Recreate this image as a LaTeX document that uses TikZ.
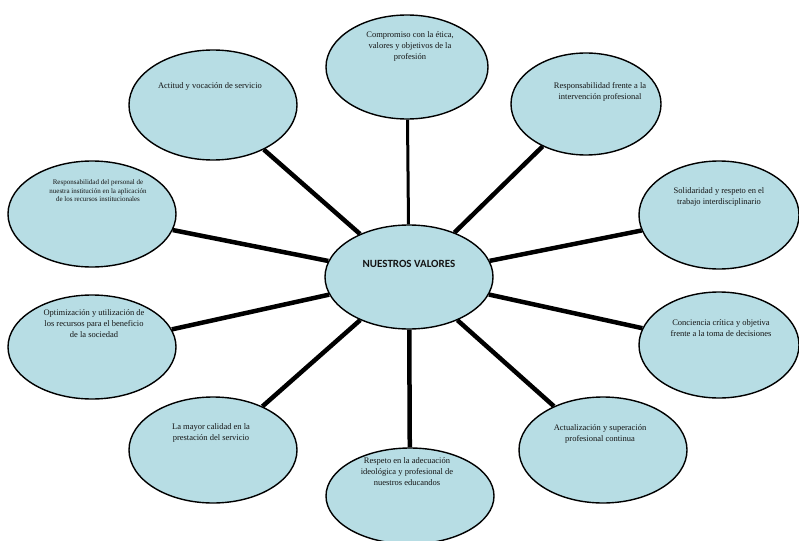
\documentclass[tikz,border=0pt]{standalone}
\usepackage{fontspec}
\setmainfont{Liberation Serif}
\newfontfamily\hubfont{Carlito}
\usetikzlibrary{shapes.geometric, backgrounds}
\definecolor{cValue}{RGB}{183, 221, 228}
\definecolor{cInk}{RGB}{20, 20, 20}
\tikzset{
    valueBox/.style={
        ellipse, draw=black, line width=1.4pt,
        fill=cValue, inner sep=0pt
    },
    valueText/.style={
        align=center, inner sep=0pt, text=cInk,
        font=\fontsize{8.5}{11}\selectfont
    },
    smallText/.style={
        align=center, inner sep=0pt, text=cInk,
        font=\fontsize{7}{8.5}\selectfont
    },
    hubText/.style={
        inner sep=0pt, text=cInk,
        font=\hubfont\bfseries\fontsize{11}{13}\selectfont
    },
    spoke/.style={
        line width=4.5pt, draw=black
    }
}

\begin{document}
\begin{tikzpicture}[x=1pt, y=-1pt]

	\useasboundingbox (0,0) rectangle (799,540);

	% =========================================================
	% Central Node
	% =========================================================

	\node [valueBox, minimum width=168pt, minimum height=104pt] (hub) at (409,277) {};
	\node [hubText] (hubLabel) at (409,264) {NUESTROS VALORES};

	% =========================================================
	% Value Ellipses
	% =========================================================

	\node [valueBox, minimum width=162pt, minimum height=104pt] (etica) at (407,67) {};
	\node [valueBox, minimum width=150pt, minimum height=102pt] (intervencion) at (586,104) {};
	\node [valueBox, minimum width=160pt, minimum height=108pt] (solidaridad) at (719,215) {};
	\node [valueBox, minimum width=160pt, minimum height=106pt] (conciencia) at (719,345) {};
	\node [valueBox, minimum width=168pt, minimum height=106pt] (actualizacion) at (603,450) {};
	\node [valueBox, minimum width=168pt, minimum height=96pt] (respeto) at (410,496) {};
	\node [valueBox, minimum width=168pt, minimum height=106pt] (calidad) at (213,450) {};
	\node [valueBox, minimum width=168pt, minimum height=104pt] (optimizacion) at (92,347) {};
	\node [valueBox, minimum width=168pt, minimum height=106pt] (personal) at (92,214) {};
	\node [valueBox, minimum width=168pt, minimum height=110pt] (actitud) at (213,105) {};

	% =========================================================
	% Value Texts
	% =========================================================

	\node [valueText] (eticaText) at (410,46) {
		Compromiso con la ética,\\
		valores y objetivos de la\\
		profesión
	};

	\node [valueText] (intervencionText) at (600,92) {
		Responsabilidad frente a la\\
		intervención profesional
	};

	\node [valueText] (solidaridadText) at (719,197) {
		Solidaridad y respeto en el\\
		trabajo interdisciplinario
	};

	\node [valueText] (concienciaText) at (721,328) {
		Conciencia crítica y objetiva\\
		frente a la toma de decisiones
	};

	\node [valueText] (actualizacionText) at (600,434) {
		Actualización y superación\\
		profesional continua
	};

	\node [valueText] (respetoText) at (407,472) {
		Respeto en la adecuación\\
		ideológica y profesional de\\
		nuestros educandos
	};

	\node [valueText] (calidadText) at (211,433) {
		La mayor calidad en la\\
		prestación del servicio
	};

	\node [valueText] (optimizacionText) at (94,324) {
		Optimización y utilización de\\
		los recursos para el beneficio\\
		de la sociedad
	};

	\node [smallText] (personalText) at (98,191) {
		Responsabilidad del personal de\\
		nuestra institución en la aplicación\\
		de los recursos institucionales
	};

	\node [valueText] (actitudText) at (211,86) {
		Actitud y vocación de servicio
	};

	% =========================================================
	% Spokes
	% =========================================================

	\begin{scope}[on background layer]
		\draw [spoke, line width=3pt] (hub) -- (etica);
		\foreach \v in {intervencion, solidaridad, conciencia, actualizacion,
				respeto, calidad, optimizacion, personal, actitud} {
				\draw [spoke] (hub) -- (\v);
			}
	\end{scope}

\end{tikzpicture}
\end{document}
